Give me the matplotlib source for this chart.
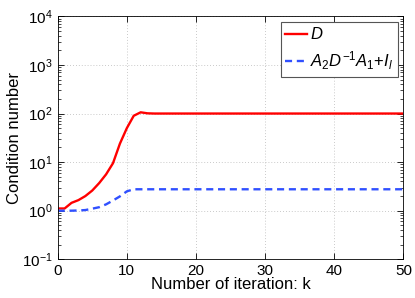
import matplotlib
matplotlib.use("Agg")
import matplotlib.pyplot as plt
import numpy as np

plt.rcParams['font.family'] = ['Liberation Sans', 'DejaVu Sans']
plt.rcParams['mathtext.fontset'] = 'custom'
plt.rcParams['mathtext.rm'] = 'Liberation Sans'
plt.rcParams['mathtext.it'] = 'Liberation Sans:italic'

# iteration index
k = np.arange(51)

# condition number of D
cond_d = [1.11, 1.11, 1.45, 1.65, 2.0, 2.6, 3.7, 5.6, 9.5, 24.0,
          50.0, 90.0, 106.0, 101.0, 100.0, 100.0, 100.0, 100.0, 100.0, 100.0,
          100.0, 100.0, 100.0, 100.0, 100.0, 100.0, 100.0, 100.0, 100.0, 100.0,
          100.0, 100.0, 100.0, 100.0, 100.0, 100.0, 100.0, 100.0, 100.0, 100.0,
          100.0, 100.0, 100.0, 100.0, 100.0, 100.0, 100.0, 100.0, 100.0, 100.0,
          100.0]

# condition number of A2 D^-1 A1 + I
cond_s = [1.0, 1.0, 1.0, 1.01, 1.03, 1.1, 1.18, 1.35, 1.62, 1.97,
          2.5, 2.76, 2.76, 2.76, 2.76, 2.76, 2.76, 2.76, 2.76, 2.76,
          2.76, 2.76, 2.76, 2.76, 2.76, 2.76, 2.76, 2.76, 2.76, 2.76,
          2.76, 2.76, 2.76, 2.76, 2.76, 2.76, 2.76, 2.76, 2.76, 2.76,
          2.76, 2.76, 2.76, 2.76, 2.76, 2.76, 2.76, 2.76, 2.76, 2.76,
          2.76]

xticks = [0, 10, 20, 30, 40, 50]

fig = plt.figure(figsize=(4.15, 2.98), dpi=100)
ax = fig.add_axes([0.139, 0.130, 0.833, 0.815])

ax.plot(k, cond_d, color='#ff0000', lw=1.7, label='$D$')
ax.plot(k, cond_s, color='#3050ff', lw=1.7, ls=(0, (3, 2)),
        label='$A_2D^{-1}A_1$+$I_l$')

ax.set_yscale('log')
ax.set_ylim(0.1, 1e4)
ax.set_xlim(0, 50)
ax.set_xticks(xticks)
ax.tick_params(which='both', direction='in', top=True, right=True, labelsize=11)
ax.tick_params(which='major', length=4, width=0.6)
ax.tick_params(which='minor', length=2, width=0.5)
ax.grid(True, which='major', ls=(0, (1, 2.5)), color='#b8b8b8', lw=0.6)
for s in ax.spines.values():
    s.set_linewidth(0.6)

ax.set_xlabel('Number of iteration: k', fontsize=12, labelpad=-1)
ax.set_ylabel('Condition number', fontsize=12, labelpad=0)

leg = ax.legend(loc='upper right', fontsize=12, fancybox=False, framealpha=1,
                edgecolor='#555555', handlelength=1.3, handletextpad=0.2,
                borderpad=0.25, labelspacing=0.45, borderaxespad=0.35)
leg.get_frame().set_linewidth(0.8)

fig.savefig("out.png", dpi=100)
